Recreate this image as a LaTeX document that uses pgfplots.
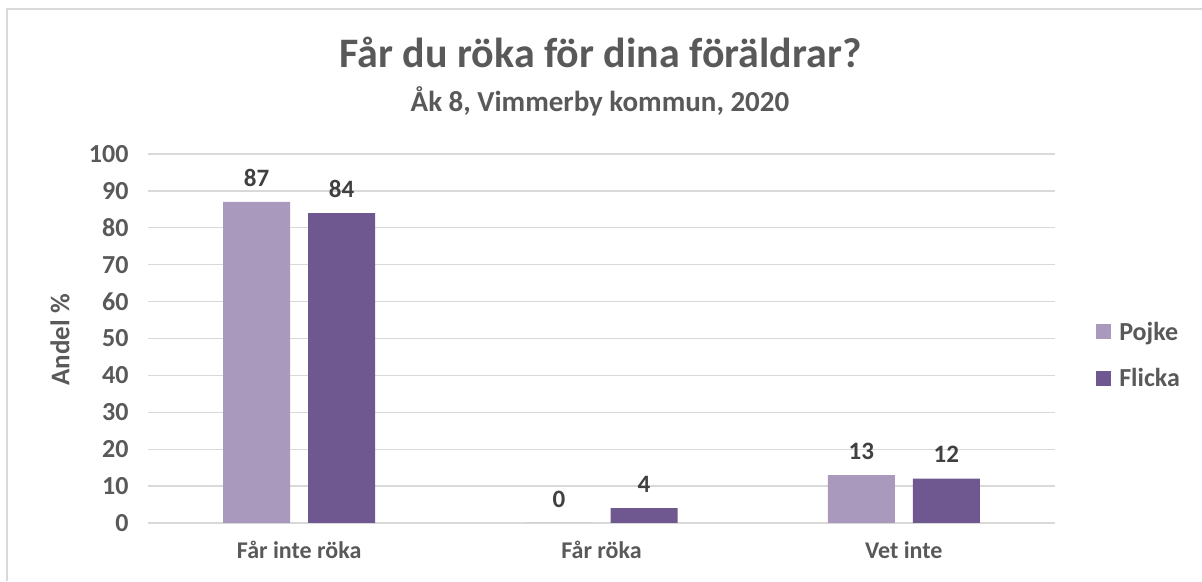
\documentclass[border=0pt]{standalone}
\usepackage{pgfplots}
\pgfplotsset{compat=1.18}
\usepackage{fontspec}
\setmainfont{Carlito}
\definecolor{pojke}{HTML}{A899BD}
\definecolor{flicka}{HTML}{6F578F}
\definecolor{gridc}{HTML}{D9D9D9}
\definecolor{titlec}{HTML}{595959}
\definecolor{labc}{HTML}{404040}
\begin{document}
\begin{tikzpicture}[x=1pt,y=1pt]
\path[use as bounding box] (0,0) rectangle (1202,581);
\draw[color=gridc, line width=1.5pt] (7,0) -- (7,572) -- (1202,572);
\node[font=\fontsize{42}{46}\selectfont\bfseries, text=titlec, anchor=base] at (600.5,513) {Får du röka för dina föräldrar?};
\node[font=\fontsize{29}{32}\selectfont\bfseries, text=titlec, anchor=base] at (600,469) {Åk 8, Vimmerby kommun, 2020};
\node[font=\fontsize{27}{30}\selectfont\bfseries, text=titlec, rotate=90] at (60,241) {Andel \%};
\begin{axis}[
  at={(148pt,58pt)}, anchor=south west,
  scale only axis, width=907pt, height=369pt,
  ymin=0, ymax=100, xmin=-0.5, xmax=2.5,
  ytick={0,10,...,100},
  xtick={0,1,2},
  xticklabels={Får inte röka, Får röka, Vet inte},
  ybar=18pt, bar width=67pt,
  ymajorgrids, grid style={draw=gridc, line width=1.3pt},
  axis line style={draw=none},
  major tick length=0pt, tick style={draw=none},
  /pgf/number format/assume math mode=true,
  yticklabel style={font=\fontsize{26}{28}\selectfont\bfseries, text=titlec, xshift=-16pt},
  xticklabel style={font=\fontsize{24}{28}\selectfont\bfseries, text=titlec, yshift=-15pt},
  nodes near coords,
  every node near coord/.append style={font=\fontsize{25}{28}\selectfont\bfseries, text=labc, anchor=center, yshift=24pt},
  legend style={at={(1.042,0.455)}, anchor=west, draw=none, fill=none,
    font=\fontsize{26}{28}\selectfont\bfseries, text=titlec, row sep=23pt,
    /tikz/every even column/.append style={column sep=2pt},
    /tikz/every odd column/.append style={column sep=6pt}},
  legend cell align=left,
]
\addplot[fill=pojke, draw=none, legend image code/.code={\fill[pojke] (0pt,-7.5pt) rectangle (15pt,7.5pt);}] coordinates {(0,87) (1,0) (2,13)};
\addlegendentry{Pojke}
\addplot[fill=flicka, draw=none, legend image code/.code={\fill[flicka] (0pt,-7.5pt) rectangle (15pt,7.5pt);}] coordinates {(0,84) (1,4) (2,12)};
\addlegendentry{Flicka}
\end{axis}
\end{tikzpicture}
\end{document}
